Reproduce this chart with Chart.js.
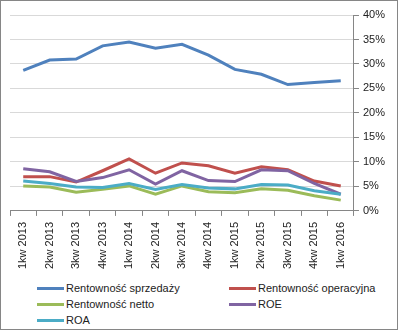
<!DOCTYPE html>
<html lang="pl">
<head>
<meta charset="UTF-8">
<title>Rentowność</title>
<script src="https://cdn.jsdelivr.net/npm/chart.js"></script>
<style>
  html, body { margin: 0; padding: 0; background: #fff; }
  #frame { position: relative; width: 396px; height: 328px; border: 1px solid #868686; overflow: hidden; }
  #wrap { position: absolute; left: 0; top: 0; width: 396px; height: 274px; }
  #legend { position: absolute; left: 0; top: 280px; width: 396px; font: 11px "Liberation Sans", Arial, sans-serif; color: #222; }
  .item { position: absolute; height: 14px; line-height: 14px; white-space: nowrap; }
  .item span.swatch { display: inline-block; width: 27px; height: 3px; vertical-align: middle; margin-right: 2px; position: relative; top: -1px; }
</style>
</head>
<body>
<div id="frame">
  <div id="wrap"><canvas id="chart"></canvas></div>
  <div id="legend"></div>
</div>
<script>
// Categories (quarters)
const labels = ['1kw 2013', '2kw 2013', '3kw 2013', '4kw 2013', '1kw 2014', '2kw 2014', '3kw 2014',
  '4kw 2014', '1kw 2015', '2kw 2015', '3kw 2015', '4kw 2015', '1kw 2016'];

// Series values in percent
const rentSprzedazy = [28.7, 30.8, 31.0, 33.7, 34.5, 33.2, 34.0, 31.8, 28.9, 27.9, 25.8, 26.2, 26.6];
const rentOperacyjna = [7.0, 7.0, 5.9, 8.2, 10.6, 7.7, 9.8, 9.2, 7.7, 9.0, 8.4, 6.1, 5.1];
const rentNetto = [5.1, 4.9, 3.8, 4.4, 5.1, 3.4, 5.1, 3.9, 3.7, 4.5, 4.2, 3.1, 2.2];
const roe = [8.6, 8.0, 6.0, 6.8, 8.4, 5.5, 8.2, 6.2, 6.0, 8.4, 8.2, 5.6, 3.4];
const roa = [6.1, 5.6, 4.9, 4.8, 5.6, 4.4, 5.4, 4.7, 4.5, 5.4, 5.3, 4.1, 3.4];

// Y axis ticks
const yMin = 0;
const yMax = 40;
const yStep = 5;

const seriesNames = ['Rentowność sprzedaży', 'Rentowność operacyjna', 'Rentowność netto', 'ROE', 'ROA'];
const seriesColors = ['#4F81BD', '#C0504D', '#9BBB59', '#8064A2', '#4BACC6'];
const seriesData = [rentSprzedazy, rentOperacyjna, rentNetto, roe, roa];

const font = { family: '"Liberation Sans", Arial, sans-serif', size: 11 };

// Draw order: Excel draws the first series first
const datasets = seriesData.map((d, i) => ({
  label: seriesNames[i],
  data: d,
  borderColor: seriesColors[i],
  backgroundColor: seriesColors[i],
  borderWidth: 3,
  pointRadius: 0,
  tension: 0,
  fill: false,
  order: 5 - i
}));

new Chart(document.getElementById('chart'), {
  type: 'line',
  data: { labels, datasets },
  options: {
    responsive: true,
    maintainAspectRatio: false,
    animation: false,
    layout: { padding: { left: 9, right: 8, top: 14, bottom: 0 } },
    plugins: { legend: { display: false }, tooltip: { enabled: false } },
    scales: {
      x: {
        offset: true,
        grid: { display: true, drawOnChartArea: false, drawTicks: true, tickLength: 5, color: '#868686', offset: true },
        border: { color: '#868686' },
        ticks: { color: '#222', font, minRotation: 90, maxRotation: 90, autoSkip: false, padding: 6 }
      },
      y: {
        position: 'right',
        min: yMin,
        max: yMax,
        grid: { color: '#d9d9d9', tickLength: 5, tickColor: '#868686' },
        border: { color: '#868686' },
        ticks: { stepSize: yStep, color: '#222', font, padding: 4, callback: v => v + '%' }
      }
    }
  }
});

// Legend in two columns, like the original
const legend = document.getElementById('legend');
const colX = [36, 228];
seriesNames.forEach((name, i) => {
  const el = document.createElement('div');
  el.className = 'item';
  el.style.left = colX[i % 2] + 'px';
  el.style.top = (Math.floor(i / 2) * 16) + 'px';
  el.innerHTML = '<span class="swatch" style="background:' + seriesColors[i] + '"></span>' + name;
  legend.appendChild(el);
});
</script>
</body>
</html>
